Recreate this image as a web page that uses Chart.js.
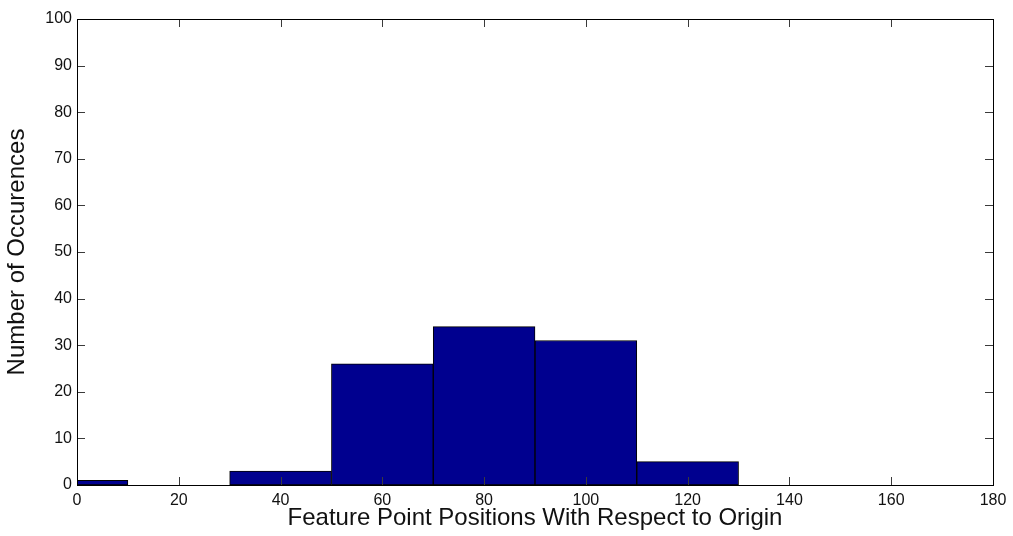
<!DOCTYPE html>
<html>
<head>
<meta charset="utf-8">
<script src="https://cdn.jsdelivr.net/npm/chart.js@4/dist/chart.umd.min.js"></script>
<style>
  html, body { margin: 0; padding: 0; background: #fff; }
  #wrap { width: 1013px; height: 536px; }
</style>
</head>
<body>
<div id="wrap"><canvas id="c" width="1013" height="536"></canvas></div>
<script>
// Histogram bin centres and counts
const binCenters = [0, 20, 40, 60, 80, 100, 120, 140, 160];
const counts = [1, 0, 3, 26, 34, 31, 5, 0, 0];
const xTicks = [0, 20, 40, 60, 80, 100, 120, 140, 160, 180];
const yTicks = [0, 10, 20, 30, 40, 50, 60, 70, 80, 90, 100];

const FONT = "Arial, 'Liberation Sans', Helvetica, sans-serif";

// Boxed axes with inward tick marks on all four sides
const boxTicks = {
  id: 'boxTicks',
  afterDraw(chart) {
    const { ctx, chartArea: a, scales } = chart;
    const len = 8;
    ctx.save();
    ctx.strokeStyle = '#3a3a3a';
    ctx.lineWidth = 1;
    ctx.beginPath();
    xTicks.forEach(v => {
      const x = Math.round(scales.x.getPixelForValue(v)) + 0.5;
      ctx.moveTo(x, a.bottom); ctx.lineTo(x, a.bottom - len);
      ctx.moveTo(x, a.top); ctx.lineTo(x, a.top + len);
    });
    yTicks.forEach(v => {
      const y = Math.round(scales.y.getPixelForValue(v)) + 0.5;
      ctx.moveTo(a.left, y); ctx.lineTo(a.left + len, y);
      ctx.moveTo(a.right, y); ctx.lineTo(a.right - len, y);
    });
    ctx.stroke();
    ctx.strokeStyle = '#000';
    ctx.strokeRect(Math.round(a.left) + 0.5, Math.round(a.top) + 0.5,
                   Math.round(a.right - a.left), Math.round(a.bottom - a.top));
    ctx.restore();
  }
};

new Chart(document.getElementById('c'), {
  type: 'bar',
  data: {
    datasets: [{
      data: binCenters.map((x, i) => ({ x, y: counts[i] })),
      backgroundColor: '#00008F',
      borderColor: '#000',
      borderWidth: 1,
      borderSkipped: false,
      barPercentage: 1,
      categoryPercentage: 1,
      clip: 0
    }]
  },
  plugins: [boxTicks],
  options: {
    responsive: false,
    animation: false,
    layout: { padding: { top: 19, right: 20, left: 0, bottom: 0 } },
    plugins: { legend: { display: false }, tooltip: { enabled: false } },
    scales: {
      x: {
        type: 'linear',
        min: 0, max: 180,
        offset: false,
        afterFit: s => { s.height = 51; },
        afterBuildTicks: s => { s.ticks = xTicks.map(v => ({ value: v })); },
        grid: { display: false, drawTicks: false },
        border: { display: true, color: '#000' },
        ticks: { color: '#111', padding: 6, maxRotation: 0, autoSkip: false,
                 font: { family: FONT, size: 16 } },
        title: { display: true, text: 'Feature Point Positions With Respect to Origin',
                 color: '#111', font: { family: FONT, size: 24 }, padding: { top: 0, bottom: 3 } }
      },
      y: {
        min: 0, max: 100,
        afterFit: s => { s.width = 77; },
        afterBuildTicks: s => { s.ticks = yTicks.map(v => ({ value: v })); },
        grid: { display: false, drawTicks: false },
        border: { display: true, color: '#000' },
        ticks: { color: '#111', padding: 5, autoSkip: false,
                 font: { family: FONT, size: 16 } },
        title: { display: true, text: 'Number of Occurences',
                 color: '#111', font: { family: FONT, size: 24 }, padding: { top: 3, bottom: 0 } }
      }
    }
  }
});
</script>
</body>
</html>
